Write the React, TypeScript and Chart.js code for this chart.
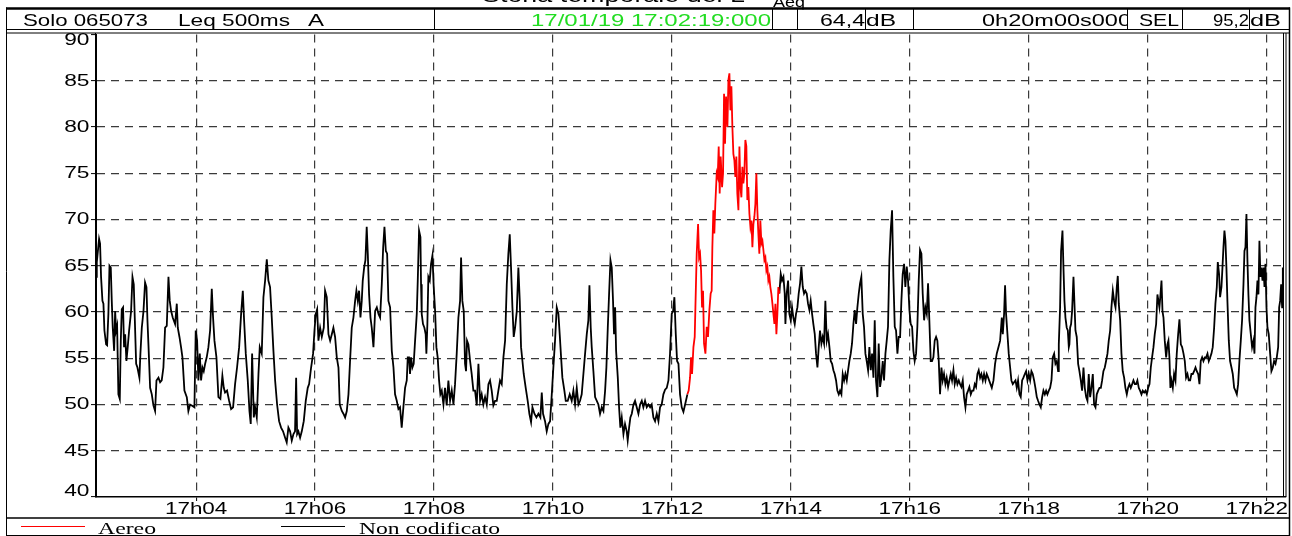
import React, { useEffect, useRef } from "react";
import { Chart, registerables } from "chart.js";

Chart.register(...registerables);

// ---------------- data ----------------
const TITLE_MAIN = "Storia temporale del L";
const TITLE_SUB = "Aeq";
const INSTRUMENT = "Solo 065073";
const INDICATOR = "Leq 500ms";
const WEIGHTING = "A";
const START_STAMP = "17/01/19 17:02:19:000";
const LEQ_TOTAL = "64,4";
const DURATION_TEXT = "0h20m00s000";
const SEL_LABEL = "SEL";
const SEL_TOTAL = "95,2";
const UNIT = "dB";

const DURATION_S = 1200;
const Y_TICKS = [40, 45, 50, 55, 60, 65, 70, 75, 80, 85, 90];
const X_TICK_S = [101, 221, 341, 461, 581, 701, 821, 941, 1061, 1181];
const X_TICK_LABELS = ["17h04", "17h06", "17h08", "17h10", "17h12", "17h14", "17h16", "17h18", "17h20", "17h22"];
const SERIES_NAMES = ["Aereo", "Non codificato"];
const SERIES_COLORS = ["#ff0000", "#000000"];

// [seconds from start, dB]
const LEQ_0_5MIN: [number, number][] = [
  [0, 63.8], [0.8, 65.4], [3.1, 67.9], [4.1, 67.4], [5.1, 63.8], [6.5, 61.2], [7.5, 60.9], [8.5, 58.0], [10.2, 56.5], [11.2, 56.4],
  [12.5, 59.8], [13.6, 65.0], [14.9, 64.8], [15.9, 61.2], [16.9, 58.3], [18.3, 55.8], [19.3, 60.1], [20.3, 58.0], [21.3, 58.5], [22.6, 51.1],
  [24.0, 50.6], [25.0, 56.9], [26.0, 60.3], [27.3, 60.5], [28.3, 56.2], [29.4, 57.6], [30.7, 54.7], [32.0, 56.2], [33.4, 58.0], [35.4, 60.1],
  [36.8, 63.8], [38.1, 63.0], [39.1, 59.4], [40.5, 54.4], [41.8, 54.0], [43.8, 52.9], [44.8, 55.5], [46.2, 58.3], [47.9, 60.1], [49.5, 63.2],
  [50.9, 62.7], [51.9, 59.1], [52.9, 56.5], [54.6, 51.8], [56.3, 51.1], [57.9, 49.9], [59.6, 49.3], [61.0, 52.6], [63.0, 52.9], [64.7, 52.4],
  [66.3, 52.6], [68.0, 54.0], [69.7, 58.3], [71.4, 58.5], [73.1, 63.8], [74.4, 61.2], [75.8, 60.1], [77.4, 59.4], [79.8, 58.7], [81.5, 60.9],
  [82.5, 58.3], [84.2, 57.3], [85.8, 56.2], [87.2, 55.1], [89.2, 51.5], [91.6, 50.8], [93.2, 49.3], [94.9, 50.0], [96.6, 49.9], [99.3, 49.7],
  [100.6, 58.0], [102.0, 56.9], [103.3, 52.6], [104.7, 55.5], [106.0, 52.6], [107.4, 54.0], [108.7, 53.6], [110.1, 54.4], [111.7, 55.1], [113.4, 56.2],
  [115.1, 58.0], [116.8, 62.5], [118.1, 59.4], [119.5, 56.9], [121.5, 55.1], [123.5, 50.8], [125.5, 50.6], [127.5, 53.1], [128.9, 51.8], [130.2, 51.3],
  [132.2, 51.5], [134.3, 50.4], [136.3, 49.5], [138.3, 49.7], [140.3, 52.2], [142.3, 54.0], [144.4, 56.2], [146.4, 59.8], [148.1, 62.3], [149.4, 59.1],
  [151.1, 55.5], [153.1, 52.6], [154.8, 49.3], [156.1, 47.9], [157.5, 55.5], [159.2, 48.6], [160.5, 49.7], [162.2, 48.6], [163.9, 53.3], [165.2, 56.2],
  [167.2, 55.5], [168.9, 61.6], [170.6, 63.4], [172.3, 65.7], [173.9, 63.4], [175.6, 62.7], [177.3, 59.4], [179.0, 55.8], [180.7, 52.6], [182.7, 50.0],
  [184.7, 48.2], [186.7, 47.5], [188.7, 47.1], [190.8, 46.4], [192.4, 45.9], [194.1, 47.5], [195.8, 47.1], [197.5, 46.1], [199.2, 46.8], [200.8, 47.1],
  [201.9, 52.9], [202.9, 46.8], [204.2, 47.1], [205.9, 46.4], [207.6, 47.1], [209.6, 48.2], [211.6, 50.4], [213.6, 51.8], [215.0, 52.2], [217.0, 54.0],
  [219.0, 55.5], [220.4, 58.0], [221.7, 59.8], [223.1, 60.3], [224.4, 56.9], [226.1, 58.3], [227.8, 57.3], [229.8, 58.3], [231.1, 62.3], [232.8, 61.6],
  [234.5, 57.6], [236.2, 56.9], [237.9, 57.6], [239.5, 58.3], [241.2, 57.3], [242.9, 55.1], [244.6, 54.0], [245.9, 50.0], [248.0, 49.3], [249.6, 49.0],
  [251.3, 48.6], [253.0, 49.3], [254.7, 51.1], [256.3, 54.7], [258.0, 58.3], [259.7, 59.4], [261.4, 61.2], [262.7, 62.3], [264.1, 61.2], [265.4, 62.3],
  [266.8, 59.4], [268.1, 61.2], [269.1, 63.4], [270.5, 64.8], [271.8, 65.6], [273.1, 69.2], [274.2, 66.3], [275.5, 61.9], [276.9, 59.4], [278.2, 58.3],
  [279.9, 56.2], [281.6, 60.1], [283.3, 60.5], [285.0, 59.8], [286.6, 59.4], [288.3, 63.0], [289.7, 67.0], [291.0, 69.2], [292.4, 66.6], [293.7, 66.3],
  [295.0, 61.2], [296.7, 60.5], [298.4, 55.8], [300.1, 54.0], [301.7, 51.1],
];

const LEQ_5_10MIN: [number, number][] = [
  [303.4, 50.4], [305.1, 49.5], [306.7, 49.7], [308.4, 47.5], [310.1, 49.7], [311.8, 51.8], [313.5, 52.6], [314.5, 55.1], [315.8, 55.1], [316.8, 53.3],
  [317.8, 55.1], [319.2, 54.0], [320.5, 54.4], [321.9, 56.9], [323.6, 59.8], [324.6, 63.4], [325.9, 68.8], [327.3, 68.1], [327.9, 63.0], [328.6, 59.8],
  [329.9, 58.7], [331.3, 58.3], [332.6, 57.6], [333.3, 55.5], [334.3, 58.7], [335.3, 63.8], [336.7, 63.4], [338.0, 65.2], [339.4, 66.1], [340.7, 62.7],
  [342.1, 60.1], [343.4, 56.2], [344.7, 55.1], [346.1, 52.6], [347.4, 51.1], [348.8, 51.5], [350.5, 50.0], [352.1, 51.8], [353.8, 49.9], [355.5, 52.6],
  [357.2, 50.4], [358.9, 51.5], [360.6, 50.0], [362.2, 52.2], [363.9, 55.5], [365.6, 59.4], [367.3, 61.2], [368.3, 65.9], [369.6, 61.2], [371.0, 60.1],
  [372.3, 54.4], [373.3, 53.6], [374.3, 56.9], [375.7, 56.5], [377.4, 54.7], [379.0, 53.3], [380.7, 51.5], [382.4, 51.5], [384.1, 49.9], [385.8, 54.4],
  [387.5, 50.4], [389.1, 51.1], [390.8, 50.0], [392.5, 50.8], [394.2, 50.0], [395.9, 52.2], [397.5, 52.6], [399.2, 51.5], [400.9, 49.9], [402.6, 50.4],
  [404.3, 50.4], [405.9, 51.5], [407.6, 52.6], [409.3, 52.2], [411.0, 55.1], [412.7, 56.9], [414.4, 63.0], [416.0, 66.3], [417.4, 68.4], [418.7, 64.8],
  [420.1, 60.5], [421.4, 57.3], [422.8, 58.3], [424.5, 60.1], [426.1, 64.8], [427.5, 61.2], [428.8, 56.2], [430.2, 54.7], [431.5, 53.3], [433.5, 51.8],
  [435.5, 50.4], [437.2, 49.0], [438.9, 48.1], [440.3, 49.7], [442.3, 49.0], [444.3, 48.6], [446.3, 49.0], [448.3, 48.6], [449.7, 51.3], [451.0, 49.0],
  [453.0, 48.2], [454.7, 47.1], [456.4, 47.9], [458.1, 48.2], [459.8, 51.1], [461.4, 54.0], [463.1, 56.9], [464.8, 60.5], [466.5, 59.8], [467.8, 57.6],
  [469.2, 55.1], [470.5, 52.9], [472.5, 51.5], [473.9, 50.4], [475.9, 50.4], [477.9, 51.1], [479.9, 50.4], [481.6, 51.5], [483.3, 50.0], [485.0, 51.8],
  [486.7, 50.0], [488.3, 50.4], [490.0, 51.1], [491.7, 53.3], [493.4, 55.5], [495.1, 57.6], [496.7, 59.1], [497.8, 62.9], [499.1, 58.3], [500.1, 56.2],
  [501.8, 53.6], [503.5, 50.8], [505.2, 50.4], [506.8, 50.0], [508.5, 49.0], [510.2, 49.7], [511.9, 49.3], [513.6, 51.5], [514.9, 54.0], [516.3, 58.3],
  [517.6, 61.9], [519.0, 65.6], [520.3, 64.8], [521.6, 61.2], [522.6, 57.6], [523.7, 60.5], [524.7, 55.8], [526.4, 52.9], [527.7, 49.7], [529.0, 47.5],
  [530.4, 48.6], [532.1, 46.8], [533.7, 47.9], [535.4, 47.1], [536.4, 46.1], [537.8, 47.5], [539.1, 48.6], [540.5, 49.0], [542.2, 50.0], [543.8, 50.4],
  [545.5, 49.7], [547.2, 49.0], [548.9, 50.0], [550.6, 50.4], [552.2, 49.7], [553.9, 50.4], [555.6, 49.7], [557.3, 50.0], [559.0, 49.7], [560.6, 50.0],
  [562.3, 48.6], [564.0, 48.2], [565.7, 49.0], [567.4, 48.2], [569.0, 49.7], [570.7, 50.0], [572.4, 51.1], [574.1, 51.6], [575.8, 51.8], [577.5, 52.6],
  [579.1, 55.5], [580.8, 59.8], [582.2, 60.1], [583.5, 61.6], [584.9, 57.6], [586.2, 54.7], [587.6, 54.4], [589.2, 51.1], [590.9, 49.7], [592.6, 49.2],
  [594.3, 50.0],
];

// aircraft event ("Aereo")
const AEREO: [number, number][] = [
  [596.6, 51.1], [597.9, 51.5], [599.3, 52.9], [600.3, 55.1], [601.3, 53.3], [602.7, 56.2], [604.0, 57.3], [604.7, 60.5], [606.0, 66.3], [607.4, 69.5],
  [608.4, 65.9], [609.4, 66.3], [610.4, 64.5], [611.4, 60.5], [612.4, 62.3], [613.4, 56.6], [614.8, 55.5], [616.1, 58.4], [617.4, 57.3], [618.8, 60.2],
  [620.1, 62.0], [621.1, 62.3], [621.8, 67.0], [622.8, 71.0], [623.8, 68.5], [624.8, 71.7], [626.2, 75.0], [627.2, 74.6], [628.2, 77.9], [629.2, 72.8],
  [630.2, 76.8], [631.6, 73.5], [632.6, 75.0], [633.6, 83.6], [634.6, 78.2], [635.6, 83.3], [637.0, 80.0], [638.0, 85.1], [639.0, 85.8], [640.0, 81.8],
  [641.0, 84.4], [642.0, 80.0], [643.0, 77.1], [644.0, 76.4], [645.0, 74.6], [646.0, 76.8], [647.0, 72.8], [648.1, 71.0], [649.1, 77.9], [650.1, 73.5],
  [651.1, 72.4], [652.1, 75.7], [653.1, 73.9], [654.1, 75.0], [655.1, 78.6], [656.1, 77.9], [657.1, 72.1], [658.1, 73.5], [659.2, 70.6], [660.2, 69.2],
  [661.2, 69.9], [662.2, 67.0], [663.2, 69.5], [664.2, 70.3], [665.2, 71.7], [666.2, 75.0], [667.2, 71.0], [668.2, 68.5], [669.2, 66.3], [670.2, 69.9],
  [671.3, 67.4], [672.3, 67.7], [673.3, 66.7], [674.3, 65.6], [675.3, 65.9], [676.3, 64.5], [677.3, 64.9], [678.3, 63.4], [679.3, 63.8], [680.3, 62.7],
  [681.3, 62.0], [682.4, 60.9], [683.4, 59.8], [684.4, 58.7], [685.4, 60.9], [686.4, 57.6], [687.4, 59.8], [688.4, 62.7], [689.4, 62.0],
];

const LEQ_11_15MIN: [number, number][] = [
  [690.8, 64.1], [692.1, 63.4], [693.5, 63.8], [694.8, 62.0], [695.5, 58.7], [696.8, 62.0], [698.2, 63.4], [699.5, 59.8], [700.9, 59.1], [702.2, 60.5],
  [703.5, 59.4], [704.9, 58.7], [706.2, 59.8], [707.6, 60.5], [708.9, 62.0], [710.3, 63.1], [711.6, 64.9], [713.0, 62.7], [714.3, 62.0], [715.6, 62.3],
  [717.0, 62.0], [718.3, 60.9], [719.7, 60.2], [721.0, 61.2], [722.4, 59.8], [723.7, 58.7], [725.1, 57.6], [726.4, 55.5], [727.8, 54.0], [729.1, 56.2],
  [730.4, 58.0], [731.8, 56.6], [733.1, 57.3], [734.5, 56.6], [735.8, 61.2], [737.2, 56.9], [738.5, 57.6], [739.9, 56.2], [741.2, 54.7], [742.6, 54.4],
  [743.9, 53.7], [745.2, 53.3], [746.6, 52.6], [747.9, 51.5], [749.3, 51.1], [750.6, 51.5], [752.0, 51.1], [753.3, 53.3], [754.7, 52.6], [756.0, 53.3],
  [757.4, 52.6], [758.7, 53.7], [760.0, 54.7], [761.4, 55.5], [762.7, 56.6], [764.1, 58.7], [765.4, 60.2], [766.8, 58.7], [768.1, 60.5], [769.5, 62.0],
  [770.8, 63.1], [772.1, 63.8], [773.5, 59.8], [774.8, 58.4], [776.2, 55.5], [777.5, 54.7], [778.9, 53.7], [780.2, 56.2], [781.6, 53.7], [782.9, 55.5],
  [784.3, 52.9], [785.6, 59.1], [786.9, 52.6], [788.3, 50.8], [789.6, 56.6], [791.0, 51.9], [792.3, 52.9], [793.7, 54.7], [795.0, 52.6], [796.4, 55.5],
  [797.7, 56.9], [799.0, 58.4], [800.4, 65.6], [801.7, 68.8], [803.1, 71.0], [804.4, 63.8], [805.8, 58.4], [807.1, 58.0], [808.5, 55.5], [809.8, 57.3],
  [811.2, 57.3], [812.5, 61.2], [813.8, 64.1], [815.2, 65.2], [816.5, 62.7], [817.9, 64.9], [819.2, 63.4], [820.6, 60.2], [821.9, 58.7], [823.3, 58.4],
  [824.6, 55.8], [825.9, 54.7], [827.3, 55.5], [828.6, 58.4], [830.0, 63.4], [831.3, 66.7], [832.7, 66.3], [834.0, 62.0], [835.4, 59.1], [836.7, 60.5],
  [838.1, 59.8], [839.4, 63.1], [840.7, 59.1], [842.1, 54.7], [843.4, 54.7], [844.8, 55.1], [846.1, 56.9], [847.5, 57.3], [848.8, 56.9], [850.2, 54.7],
  [851.5, 51.1], [852.9, 54.0], [854.2, 52.6], [855.5, 53.3], [856.9, 52.2], [858.2, 52.9], [859.6, 51.9], [860.9, 52.6], [862.3, 53.3], [863.6, 52.6],
  [865.0, 53.7], [866.3, 52.2], [867.7, 52.9], [869.0, 52.2], [870.4, 52.6], [871.7, 52.2], [873.0, 51.9], [874.4, 52.6], [875.7, 50.8], [877.1, 49.7],
  [878.4, 51.1], [879.8, 51.5], [881.1, 51.9], [882.5, 51.1], [883.8, 51.5], [885.2, 51.5], [886.5, 52.2], [887.8, 51.9], [889.2, 53.3], [890.5, 53.7],
  [891.9, 52.9], [893.2, 53.3], [894.6, 52.6], [895.9, 53.3], [897.3, 52.6], [898.6, 53.3], [900.0, 52.9],
];

const LEQ_15_20MIN: [number, number][] = [
  [903.7, 51.8], [905.4, 52.6], [907.0, 54.4], [908.7, 55.5], [910.4, 56.2], [912.1, 56.9], [913.8, 59.4], [914.8, 57.6], [916.1, 59.8], [917.1, 62.9],
  [918.1, 59.8], [919.5, 57.6], [920.8, 55.5], [922.2, 54.0], [923.5, 52.6], [924.9, 52.2], [926.2, 52.4], [927.6, 52.6], [928.9, 51.8], [930.2, 52.6],
  [931.6, 51.1], [932.9, 50.8], [934.3, 52.6], [935.6, 52.9], [937.0, 53.3], [938.3, 53.6], [939.7, 52.6], [941.0, 53.3], [942.4, 52.6], [943.7, 53.6],
  [945.0, 53.3], [946.4, 52.6], [947.7, 51.8], [949.1, 50.8], [950.4, 50.4], [951.8, 50.0], [953.1, 49.7], [954.5, 50.8], [955.8, 51.5], [957.2, 51.1],
  [958.5, 51.5], [959.8, 51.1], [961.2, 51.5], [962.5, 51.8], [963.9, 52.6], [965.2, 55.1], [966.6, 55.5], [967.9, 54.4], [969.3, 54.7], [970.6, 53.6],
  [971.3, 56.5], [972.6, 60.5], [973.6, 66.6], [975.0, 68.8], [976.0, 64.8], [977.0, 61.2], [978.0, 59.4], [979.3, 58.3], [980.4, 58.0], [981.4, 56.2],
  [982.0, 56.5], [982.7, 58.3], [983.7, 58.7], [984.7, 60.1], [986.1, 63.8], [987.1, 60.9], [988.1, 58.0], [989.4, 57.3], [990.8, 54.4], [992.1, 53.6],
  [993.5, 52.6], [994.8, 51.5], [996.2, 54.0], [997.5, 51.8], [998.9, 50.8], [1000.2, 50.4], [1001.5, 53.3], [1002.9, 50.8], [1004.2, 51.8], [1005.6, 53.3],
  [1006.9, 50.0], [1008.3, 49.7], [1009.6, 51.1], [1011.0, 51.5], [1012.3, 51.8], [1013.7, 51.8], [1015.0, 52.6], [1016.3, 53.6], [1017.7, 54.0], [1019.0, 54.7],
  [1020.4, 55.5], [1021.7, 56.9], [1023.1, 58.0], [1024.4, 60.5], [1025.8, 62.3], [1027.1, 61.2], [1028.5, 60.5], [1029.8, 62.7], [1030.8, 63.9], [1031.8, 60.9],
  [1033.2, 59.1], [1034.5, 55.5], [1035.8, 53.6], [1037.2, 52.9], [1038.5, 51.8], [1039.9, 51.1], [1041.2, 51.8], [1042.6, 52.2], [1043.9, 51.8], [1045.3, 52.2],
  [1046.6, 52.6], [1048.0, 52.2], [1049.3, 52.2], [1050.6, 52.6], [1052.0, 51.8], [1053.3, 51.5], [1054.7, 51.1], [1056.0, 51.5], [1057.4, 51.3], [1058.7, 51.5],
  [1060.1, 51.1], [1061.4, 51.8], [1062.8, 52.2], [1064.1, 54.0], [1065.4, 55.1], [1066.8, 56.2], [1068.1, 57.6], [1069.5, 58.7], [1070.8, 61.9], [1071.8, 61.2],
  [1072.8, 60.5], [1073.9, 61.9], [1074.9, 63.4], [1075.9, 60.1], [1076.9, 59.4], [1078.2, 56.9], [1079.6, 55.1], [1080.9, 56.5], [1081.9, 56.9], [1082.9, 55.1],
  [1083.9, 51.8], [1084.9, 52.6], [1086.3, 51.8], [1087.6, 53.3], [1089.0, 52.6], [1090.3, 55.5], [1091.7, 57.6], [1093.0, 59.2], [1094.4, 56.5], [1095.7, 56.2],
  [1097.1, 55.5], [1098.4, 54.7], [1099.7, 52.9], [1101.1, 53.3], [1102.4, 52.6], [1103.8, 52.6], [1105.1, 53.3], [1106.5, 53.3], [1107.8, 53.6], [1109.2, 54.0],
  [1110.5, 53.6], [1111.9, 53.3], [1113.2, 52.2], [1114.5, 54.7], [1115.9, 55.1], [1117.2, 54.7], [1118.6, 55.1], [1119.9, 55.1], [1121.3, 55.5], [1122.6, 54.7],
  [1124.0, 55.1], [1125.3, 55.5], [1126.6, 56.2], [1128.0, 58.3], [1129.3, 60.9], [1130.7, 62.7], [1131.7, 65.4], [1133.0, 64.1], [1134.0, 61.6], [1135.4, 62.7],
  [1136.4, 64.8], [1137.4, 67.0], [1138.4, 68.8], [1139.4, 67.7], [1140.4, 64.8], [1141.4, 61.2], [1142.8, 56.9], [1144.1, 54.7], [1145.5, 54.0], [1146.8, 53.3],
  [1148.2, 51.8], [1149.5, 51.5], [1150.9, 51.1], [1152.2, 52.2], [1153.5, 54.7], [1154.9, 56.9], [1156.2, 59.1], [1157.6, 63.0], [1158.6, 66.6], [1159.6, 67.0],
  [1160.6, 70.6], [1161.6, 65.6], [1162.6, 61.9], [1163.6, 59.1], [1165.0, 57.6], [1166.3, 56.2], [1167.7, 56.9], [1168.7, 55.5], [1169.7, 60.5], [1170.7, 61.6],
  [1171.7, 63.4], [1172.7, 61.9], [1173.7, 67.7], [1174.7, 63.8], [1175.7, 64.8], [1176.8, 63.4], [1177.8, 64.8], [1178.8, 62.7], [1179.8, 65.2], [1180.8, 60.5],
  [1181.8, 58.3], [1183.1, 57.6], [1184.5, 55.5], [1185.8, 53.6], [1187.2, 54.0], [1188.5, 54.7], [1189.9, 54.4], [1191.2, 55.1], [1192.6, 56.2], [1193.6, 60.5],
  [1194.6, 61.2], [1195.6, 63.0], [1196.6, 60.5], [1197.3, 64.8],
];

// ---------------- drawing helpers ----------------
const SANS = '"Liberation Sans", Arial, Helvetica, sans-serif';
const SERIF = '"Liberation Serif", "Times New Roman", serif';

function fitText(ctx: CanvasRenderingContext2D, text: string, x0: number, x1: number, y: number, font: string, color: string) {
  ctx.save();
  ctx.font = font;
  ctx.fillStyle = color;
  ctx.textAlign = "left";
  ctx.textBaseline = "alphabetic";
  const w = ctx.measureText(text).width;
  const sx = (x1 - x0) / w;
  ctx.translate(x0, y);
  ctx.scale(sx, 1);
  ctx.fillText(text, 0, 0);
  ctx.restore();
}

function stretchText(
  ctx: CanvasRenderingContext2D, text: string, x: number, y: number, font: string, sx: number,
  align: "left" | "right" | "center", baseline: CanvasTextBaseline, maxRight?: number
) {
  ctx.save();
  ctx.font = font;
  ctx.fillStyle = "#000";
  ctx.textAlign = "left";
  ctx.textBaseline = baseline;
  const w = ctx.measureText(text).width * sx;
  let left = align === "left" ? x : align === "right" ? x - w : x - w / 2;
  if (maxRight !== undefined && left + w > maxRight) left = maxRight - w;
  ctx.translate(left, y);
  ctx.scale(sx, 1);
  ctx.fillText(text, 0, 0);
  ctx.restore();
}

function hline(ctx: CanvasRenderingContext2D, x0: number, x1: number, y: number, w = 1, color = "#000") {
  ctx.save();
  ctx.strokeStyle = color;
  ctx.lineWidth = w;
  ctx.setLineDash([]);
  ctx.beginPath();
  ctx.moveTo(x0, y);
  ctx.lineTo(x1, y);
  ctx.stroke();
  ctx.restore();
}

function vline(ctx: CanvasRenderingContext2D, x: number, y0: number, y1: number, w = 1, color = "#000") {
  ctx.save();
  ctx.strokeStyle = color;
  ctx.lineWidth = w;
  ctx.setLineDash([]);
  ctx.beginPath();
  ctx.moveTo(x, y0);
  ctx.lineTo(x, y1);
  ctx.stroke();
  ctx.restore();
}

const decorPlugin = {
  id: "decor",
  afterDraw(chart: any) {
    const ctx: CanvasRenderingContext2D = chart.ctx;
    const area = chart.chartArea;
    const xs = chart.scales.x;
    const ys = chart.scales.y;

    // title, cut by the top edge
    fitText(ctx, TITLE_MAIN, 482, 745, 1.5, `20px ${SANS}`, "#000");
    fitText(ctx, TITLE_SUB, 773, 805, 6.5, `15px ${SANS}`, "#000");

    // header strip
    const HT = 8.5;
    const HB = 29.5;
    ctx.save();
    ctx.fillStyle = "#fff";
    ctx.fillRect(6, HT + 1, 1284, HB - HT - 1);
    ctx.restore();
    hline(ctx, 6, 1290, HT, 2.5);
    hline(ctx, 6, 1290, HB, 1);
    [434.5, 772.5, 797.5, 865.5, 913.5, 1127.5, 1182.5, 1249.5].forEach((x) => vline(ctx, x, HT, HB, 1));
    const hf = `17px ${SANS}`;
    const base = 25.5;
    fitText(ctx, INSTRUMENT, 23, 148, base, hf, "#000");
    fitText(ctx, INDICATOR, 178, 290, base, hf, "#000");
    fitText(ctx, WEIGHTING, 308, 324, base, hf, "#000");
    fitText(ctx, START_STAMP, 531, 771, base, hf, "#22dd22");
    fitText(ctx, LEQ_TOTAL, 820, 865, base, hf, "#000");
    fitText(ctx, UNIT, 866, 896, base, hf, "#000");
    ctx.save();
    ctx.beginPath();
    ctx.rect(914, HT, 1127 - 914, HB - HT);
    ctx.clip();
    fitText(ctx, DURATION_TEXT, 982, 1131, base, hf, "#000");
    ctx.restore();
    fitText(ctx, SEL_LABEL, 1139, 1179, base, hf, "#000");
    fitText(ctx, SEL_TOTAL, 1213, 1249, base, hf, "#000");
    fitText(ctx, UNIT, 1250, 1281, base, hf, "#000");

    // frames
    hline(ctx, 6, 1290, 33, 1);
    vline(ctx, 6.5, 7.5, 536, 1);
    vline(ctx, 1289.5, 7.5, 536, 1.5);
    vline(ctx, 1283.5, 33, area.bottom, 1);
    vline(ctx, 1286, 33, area.bottom, 1);
    vline(ctx, 95.5, area.top - 1.5, area.bottom, 1);

    // y tick labels
    const yf = `16px ${SANS}`;
    Y_TICKS.forEach((v) => {
      let py = ys.getPixelForValue(v);
      py = Math.min(Math.max(py, area.top + 6), area.bottom - 6);
      stretchText(ctx, String(v), 89.5, py + 0.5, yf, 1.42, "right", "middle");
    });

    // x tick labels
    const xf = `17px ${SANS}`;
    X_TICK_S.forEach((s, i) => {
      const px = xs.getPixelForValue(s);
      stretchText(ctx, X_TICK_LABELS[i], px, 514, xf, 1.32, "center", "alphabetic", 1288);
    });

    // legend strip
    hline(ctx, 6, 1290, 518, 1.5);
    hline(ctx, 6, 1290, 535.5, 1);
    hline(ctx, 21, 85, 526.5, 1.2, SERIES_COLORS[0]);
    fitText(ctx, SERIES_NAMES[0], 98, 156, 533.5, `17px ${SERIF}`, "#000");
    hline(ctx, 281, 345, 526.5, 1.2, SERIES_COLORS[1]);
    fitText(ctx, SERIES_NAMES[1], 359, 500, 533.5, `17px ${SERIF}`, "#000");
  },
};

export default function App() {
  const canvasRef = useRef<HTMLCanvasElement | null>(null);

  useEffect(() => {
    document.body.style.margin = "0";
    const canvas = canvasRef.current;
    if (!canvas) return;

    const evStart = AEREO[0][0];
    const evEnd = AEREO[AEREO.length - 1][0];
    const allBlack = [...LEQ_0_5MIN, ...LEQ_5_10MIN, AEREO[0], AEREO[AEREO.length - 1], ...LEQ_11_15MIN, ...LEQ_15_20MIN];
    const blackData: { x: number; y: number | null }[] = [];
    allBlack.forEach(([x, y]) => {
      if (x === evEnd) blackData.push({ x: (evStart + evEnd) / 2, y: null });
      blackData.push({ x, y });
    });
    const redData = AEREO.map(([x, y]) => ({ x, y }));

    const chart = new Chart(canvas, {
      type: "line",
      data: {
        datasets: [
          {
            label: SERIES_NAMES[0],
            data: redData,
            borderColor: SERIES_COLORS[0],
            borderWidth: 1.8,
            pointRadius: 0,
            tension: 0,
            fill: false,
          },
          {
            label: SERIES_NAMES[1],
            data: blackData,
            borderColor: SERIES_COLORS[1],
            borderWidth: 1.8,
            pointRadius: 0,
            tension: 0,
            fill: false,
            spanGaps: false,
          },
        ],
      },
      options: {
        responsive: false,
        animation: false,
        devicePixelRatio: 1,
        layout: { padding: { left: 0, top: 34.5, right: 6.5, bottom: 0 } },
        plugins: {
          legend: { display: false },
          tooltip: { enabled: false },
          title: { display: false },
        },
        scales: {
          x: {
            type: "linear",
            min: 0,
            max: DURATION_S,
            afterBuildTicks: (scale: any) => {
              scale.ticks = X_TICK_S.map((v) => ({ value: v }));
            },
            afterFit: (scale: any) => {
              scale.height = 39;
            },
            ticks: { display: false },
            grid: {
              color: "#3a3a3a",
              lineWidth: 1.2,
              drawTicks: true,
              tickLength: 4,
              tickColor: "#000",
              tickWidth: 1,
            },
            border: { display: true, color: "#000", width: 1.5, dash: [8, 6] },
          },
          y: {
            type: "linear",
            min: 40,
            max: 90,
            afterBuildTicks: (scale: any) => {
              scale.ticks = Y_TICKS.map((v) => ({ value: v }));
            },
            afterFit: (scale: any) => {
              scale.width = 96;
            },
            ticks: { display: false },
            grid: {
              color: (c: any) =>
                c.tick && (c.tick.value === 40 || c.tick.value === 90) ? "rgba(0,0,0,0)" : "#3a3a3a",
              lineWidth: 1.2,
              drawTicks: true,
              tickLength: 5,
              tickColor: "#000",
              tickWidth: 1,
            },
            border: { display: true, color: "#000", width: 2, dash: [8, 6] },
          },
        },
      },
      plugins: [decorPlugin],
    });

    return () => chart.destroy();
  }, []);

  return (
    <div style={{ width: 1292, height: 536, background: "#fff", position: "relative" }}>
      <style>{"body{margin:0;background:#fff}"}</style>
      <canvas ref={canvasRef} width={1292} height={536} style={{ display: "block", width: 1292, height: 536 }} />
    </div>
  );
}
